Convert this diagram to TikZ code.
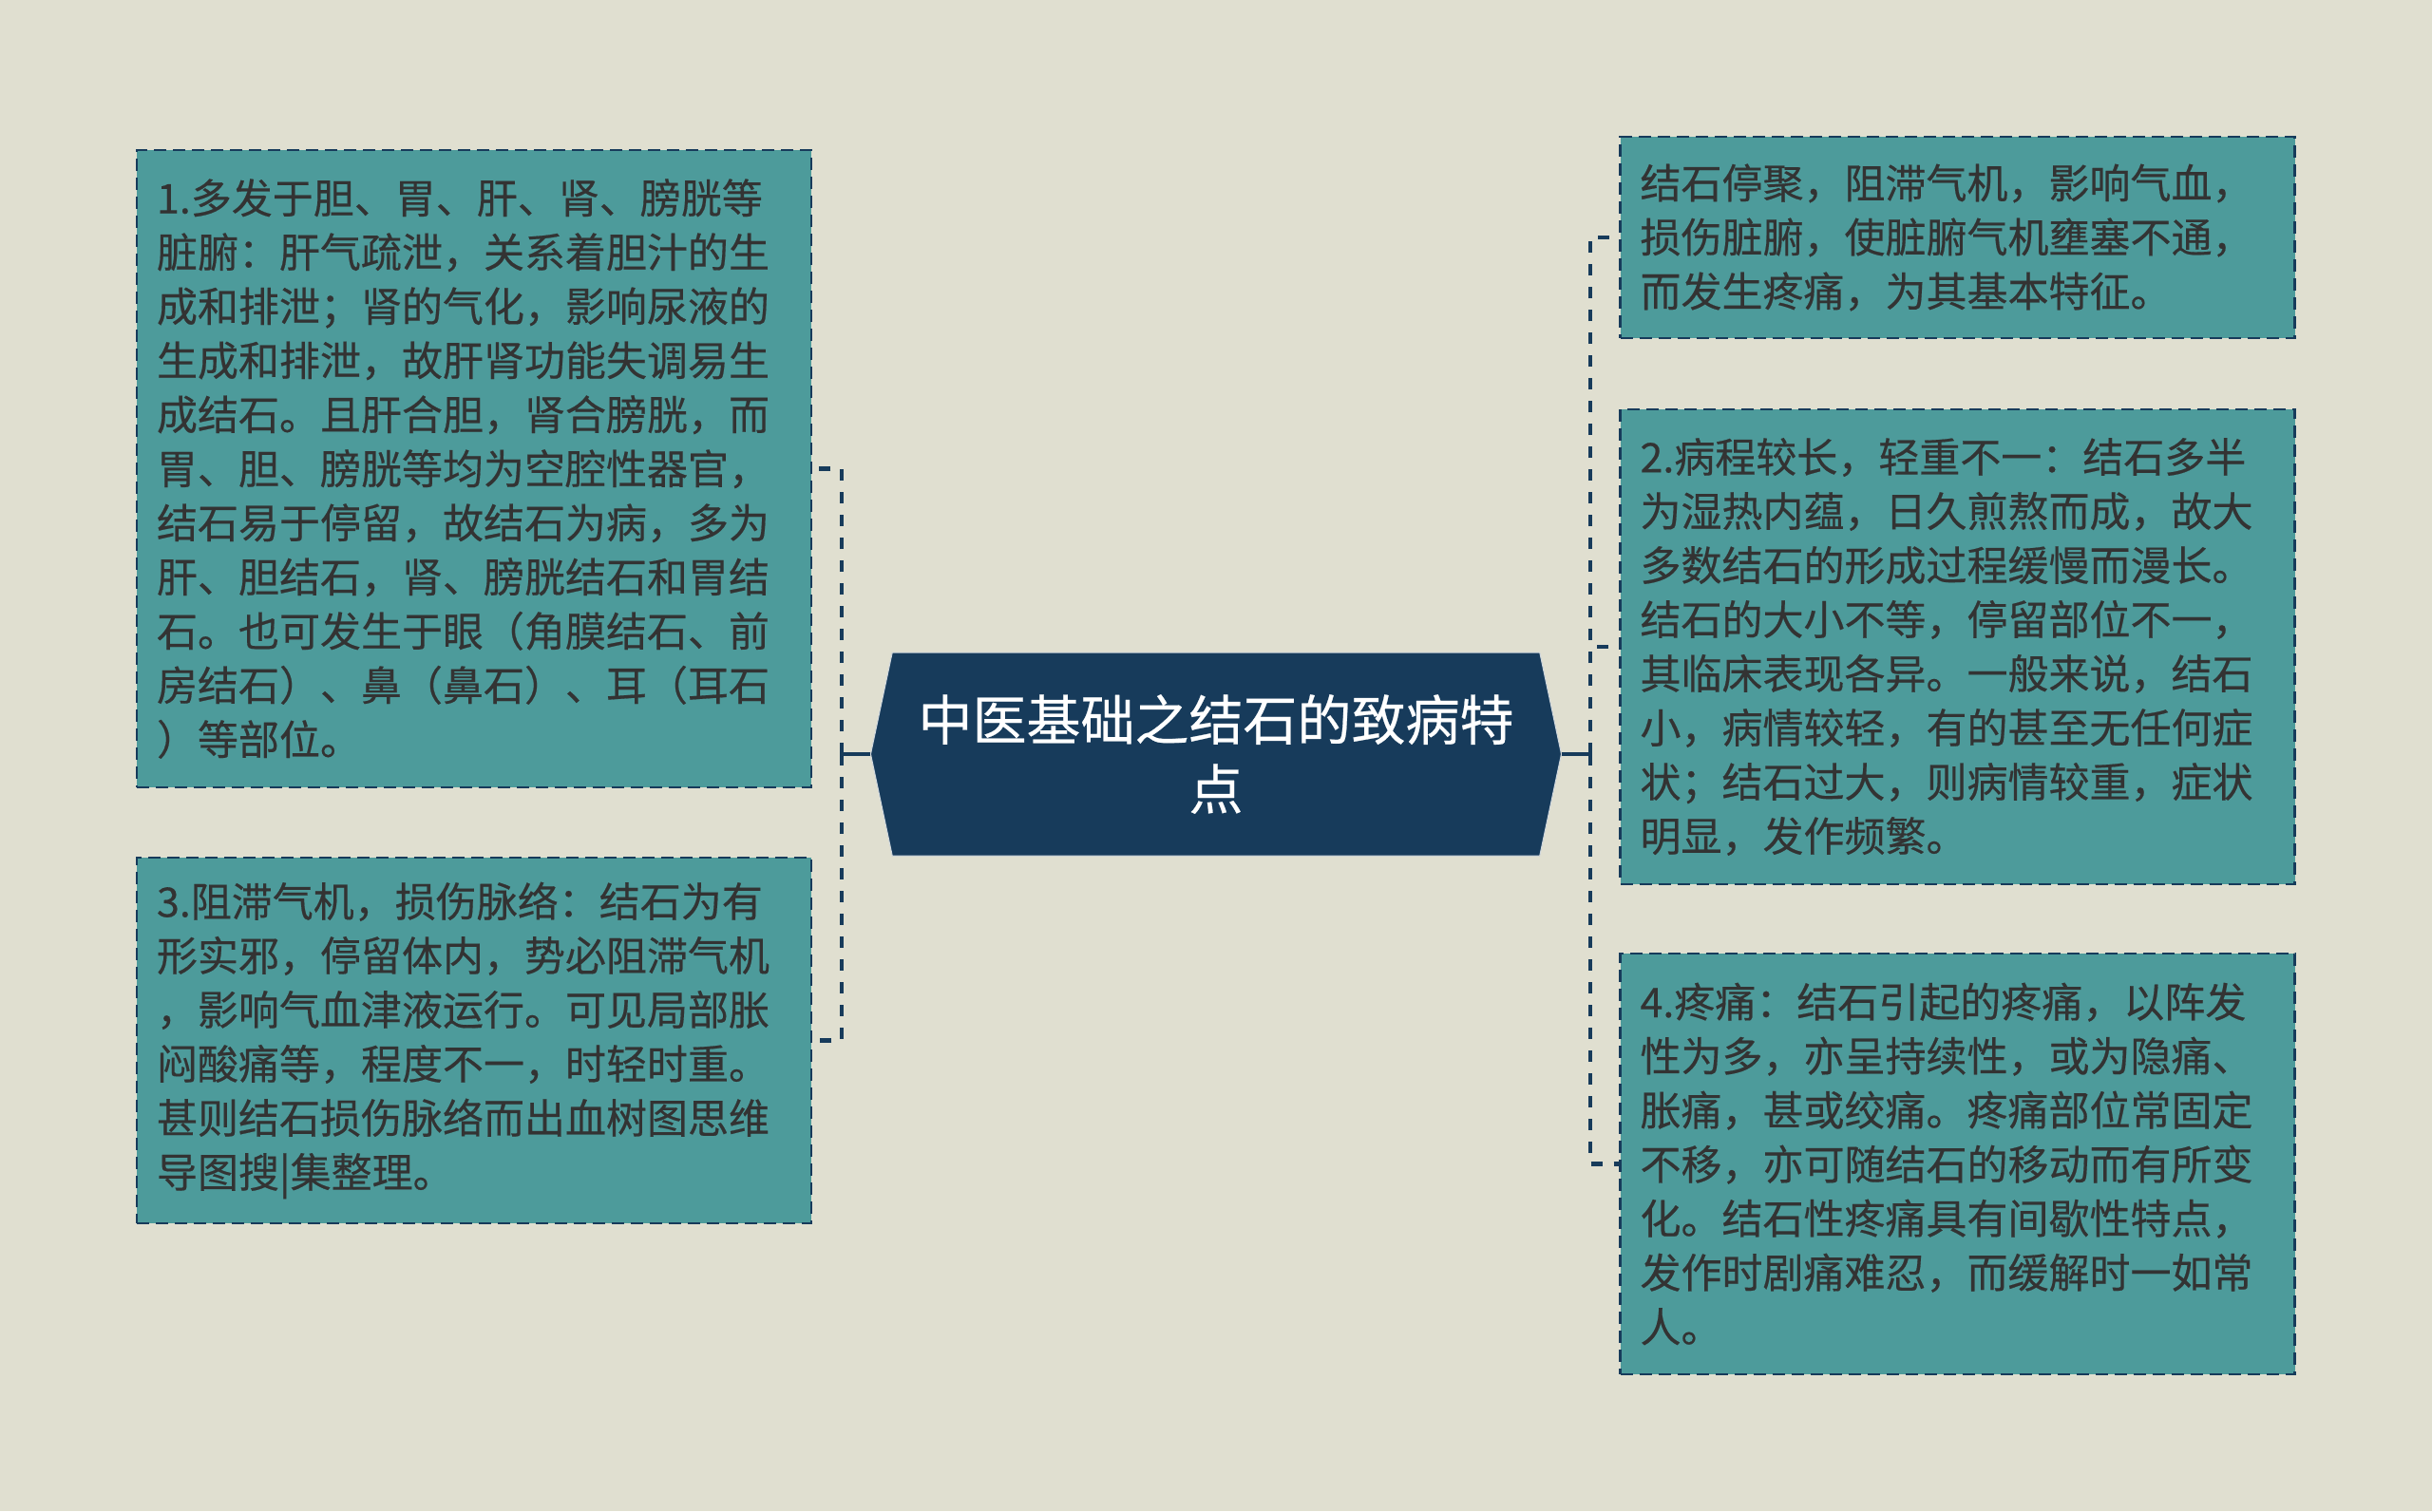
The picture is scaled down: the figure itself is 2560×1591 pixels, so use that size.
\documentclass[tikz,border=0pt]{standalone}
\usepackage{fontspec}
\setmainfont{Noto Sans CJK SC}[FakeBold=0.4]
\usetikzlibrary{shapes.symbols}
\definecolor{bgcol}{RGB}{224,223,208}
\definecolor{leafcol}{RGB}{77,155,155}
\definecolor{navy}{RGB}{23,59,91}
\definecolor{txtcol}{RGB}{51,51,51}
\tikzset{
	leaf/.style={draw=navy, line width=1.25pt, dash pattern=on 6.5pt off 3.5pt, fill=leafcol, text=txtcol,
		text width=334pt, inner xsep=10.5pt, inner ysep=0pt, align=left,
		font=\fontsize{21.5pt}{28.5pt}\selectfont},
	root/.style={signal, signal to=west and east, signal pointer angle=156, fill=navy,
		draw=white!80!navy, line width=0.5pt, text=white, align=center,
		minimum width=363.5pt, minimum height=107pt, font=\fontsize{28.5pt}{36.5pt}\selectfont},
	stub/.style={navy, line width=2pt},
	link/.style={navy, line width=2.25pt, dash pattern=on 6pt off 6pt}
}

\begin{document}
\begin{tikzpicture}[x=0.5pt,y=-0.5pt]
		%%%%% START %%%%%
		
		\fill[bgcol] (0,0) rectangle (2560,1591);
		
		\node[root] (root) at (1280,794) {中医基础之结石的致病特\\点};
		
		% left side
		\node[leaf, minimum height=335.5pt] (organs) at (499,493.5) {1.多发于胆、胃、肝、肾、膀胱等\\脏腑：肝气疏泄，关系着胆汁的生\\成和排泄；肾的气化，影响尿液的\\生成和排泄，故肝肾功能失调易生\\成结石。且肝合胆，肾合膀胱，而\\胃、胆、膀胱等均为空腔性器官，\\结石易于停留，故结石为病，多为\\肝、胆结石，肾、膀胱结石和胃结\\石。也可发生于眼（角膜结石、前\\房结石）、鼻（鼻石）、耳（耳石\\）等部位。};
		\node[leaf, minimum height=192.5pt] (block) at (499,1095.5) {3.阻滞气机，损伤脉络：结石为有\\形实邪，停留体内，势必阻滞气机\\，影响气血津液运行。可见局部胀\\闷酸痛等，程度不一，时轻时重。\\甚则结石损伤脉络而出血树图思维\\导图搜|集整理。};
		
		% right side
		\node[leaf, minimum height=106pt] (basic) at (2060.5,250) {结石停聚，阻滞气机，影响气血，\\损伤脏腑，使脏腑气机壅塞不通，\\而发生疼痛，为其基本特征。};
		\node[leaf, minimum height=250pt] (course) at (2060.5,681) {2.病程较长，轻重不一：结石多半\\为湿热内蕴，日久煎熬而成，故大\\多数结石的形成过程缓慢而漫长。\\结石的大小不等，停留部位不一，\\其临床表现各异。一般来说，结石\\小，病情较轻，有的甚至无任何症\\状；结石过大，则病情较重，症状\\明显，发作频繁。};
		\node[leaf, minimum height=221.5pt] (pain) at (2060.5,1225.5) {4.疼痛：结石引起的疼痛，以阵发\\性为多，亦呈持续性，或为隐痛、\\胀痛，甚或绞痛。疼痛部位常固定\\不移，亦可随结石的移动而有所变\\化。结石性疼痛具有间歇性特点，\\发作时剧痛难忍，而缓解时一如常\\人。};
		
		\draw[stub] (root.west) -- ++(-30,0) coordinate (lhub);
		\draw[stub] (root.east) -- ++(30,0) coordinate (rhub);
		
		\draw[link] (lhub) |- (organs.east);
		\draw[link] (lhub) |- (block.east);
		\draw[link] (rhub) |- (basic.west);
		\draw[link] (rhub) |- (course.west);
		\draw[link] (rhub) |- (pain.west);
		
		%%%%% END %%%%%
	\end{tikzpicture}
\end{document}
